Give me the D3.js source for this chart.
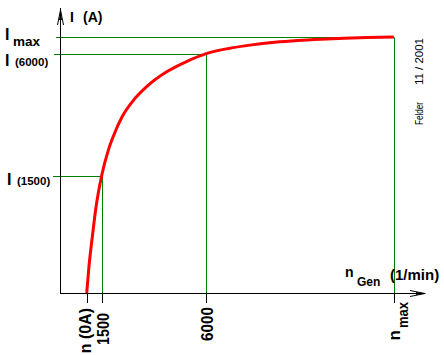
<!DOCTYPE html>
<html>
<head>
<meta charset="utf-8">
<script src="https://cdn.jsdelivr.net/npm/d3@7"></script>
<style>
  html, body { margin: 0; padding: 0; background: #fff; }
  svg { display: block; }
  text { font-family: "Liberation Sans", Arial, sans-serif; fill: #000; }
</style>
</head>
<body>
<svg id="chart" width="444" height="355"></svg>
<script>
// Generator speed n (1/min) and current I (% of Imax)
const speedN = [856, 950, 1100, 1250, 1500, 1800, 2000, 2400, 2900, 3500, 4300, 5200, 6000, 7000, 8000, 9000, 10000, 11000, 12000, 13000, 14150];
const currentI = [0, 10, 22, 33, 45.7, 56, 61, 69, 75.5, 81, 86.3, 90.5, 93.4, 95.5, 96.9, 97.9, 98.6, 99.1, 99.5, 99.8, 100];

// Marked points on the axes
const nZero = 856, n1500 = 1500, n6000 = 6000, nMax = 14150;
const iMax = 100, i6000 = 93.4, i1500 = 45.7;
const xTickValues = [nZero, n1500, n6000, nMax];

const svg = d3.select("#chart");
const x = d3.scaleLinear().domain([-300, 15500]).range([60, 425]);
const y = d3.scaleLinear().domain([0, 111.3]).range([293, 8]);
const px = v => Math.round(v) + 0.5;

const green = "#008000";

// guide lines (green)
const guides = [
  { n: nMax, i: iMax, left: 56 },
  { n: n6000, i: i6000, left: 54 },
  { n: n1500, i: i1500, left: 53 }
];
guides.forEach(g => {
  svg.append("line")
    .attr("x1", g.left).attr("x2", px(x(g.n)))
    .attr("y1", px(y(g.i))).attr("y2", px(y(g.i)))
    .attr("stroke", green).attr("stroke-width", 1);
  svg.append("line")
    .attr("x1", px(x(g.n))).attr("x2", px(x(g.n)))
    .attr("y1", px(y(g.i))).attr("y2", y(0))
    .attr("stroke", green).attr("stroke-width", 1);
});

// x axis with ticks
const xAxis = d3.axisBottom(x).tickValues(xTickValues).tickFormat("").tickSizeInner(10).tickSizeOuter(0);
const gx = svg.append("g").attr("transform", `translate(0,${Math.round(y(0))})`).call(xAxis);
gx.selectAll(".tick").attr("transform", d => `translate(${px(x(d))},0)`);
gx.selectAll(".tick line").attr("stroke", "#000");
gx.select(".domain").attr("stroke", "#000");

// y axis line
const ax0 = px(x.range()[0]);
svg.append("line")
  .attr("x1", ax0).attr("x2", ax0)
  .attr("y1", y.range()[1]).attr("y2", Math.round(y(0)) + 1)
  .attr("stroke", "#000");

// arrow heads
const yTop = y.range()[1];
svg.append("path")
  .attr("d", `M${ax0},${yTop + 2} L${ax0 - 3},${yTop + 17} M${ax0},${yTop + 2} L${ax0 + 3},${yTop + 17}`)
  .attr("stroke", "#000").attr("fill", "none");
svg.append("path")
  .attr("d", `M${ax0},${yTop + 2} L${ax0 - 1.5},${yTop + 12} L${ax0 + 1.5},${yTop + 12} Z`)
  .attr("fill", "#000");
const xEnd = x.range()[1], ay0 = Math.round(y(0)) + 0.5;
svg.append("path")
  .attr("d", `M${xEnd},${ay0} L${xEnd - 15},${ay0 - 3} M${xEnd},${ay0} L${xEnd - 15},${ay0 + 3}`)
  .attr("stroke", "#000").attr("fill", "none");
svg.append("path")
  .attr("d", `M${xEnd},${ay0} L${xEnd - 9},${ay0 - 1.5} L${xEnd - 9},${ay0 + 1.5} Z`)
  .attr("fill", "#000");

// curve
const pts = speedN.map((n, k) => [n, currentI[k]]);
svg.append("path")
  .datum(pts)
  .attr("d", d3.line().x(d => x(d[0])).y(d => y(d[1])).curve(d3.curveMonotoneX))
  .attr("fill", "none").attr("stroke", "#ff0000").attr("stroke-width", 3);

function label(xp, yp, size, str, weight) {
  return svg.append("text").attr("x", xp).attr("y", yp)
    .style("font-size", size + "px").style("font-weight", weight || "bold").text(str);
}

// y axis label
label(70, 22, 14, "I");
label(83, 22, 14, "(A)");

// y marks labels
label(5, 40, 16, "I");
label(13, 46, 13.5, "max");
label(5, 66, 16, "I");
label(15, 66, 11.5, "(6000)");
label(7, 185, 16, "I");
label(17, 185, 11.5, "(1500)");

// x axis label
label(345, 277, 14, "n");
label(357, 286, 12, "Gen");
label(390, 280, 15, "(1/min)");

// rotated x tick labels
function vtext(bx, endY, size, str, len, weight) {
  const t = svg.append("text")
    .attr("transform", `translate(${bx},${endY}) rotate(-90)`)
    .attr("text-anchor", "end")
    .style("font-size", size + "px").style("font-weight", weight || "bold").text(str);
  if (len) t.attr("textLength", len).attr("lengthAdjust", "spacingAndGlyphs");
  return t;
}
vtext(91, 308, 16, "n (0A)");
vtext(109, 313, 17, "1500", 32);
vtext(213, 307, 17, "6000", 34);
vtext(400, 330, 17, "n");
vtext(407.5, 302, 14, "max", 26);

// signature
vtext(423, 125, 11, "Felder", 23, "normal").attr("text-anchor", "start");
vtext(423, 85, 11, "11 / 2001", 47, "normal").attr("text-anchor", "start");
</script>
</body>
</html>
